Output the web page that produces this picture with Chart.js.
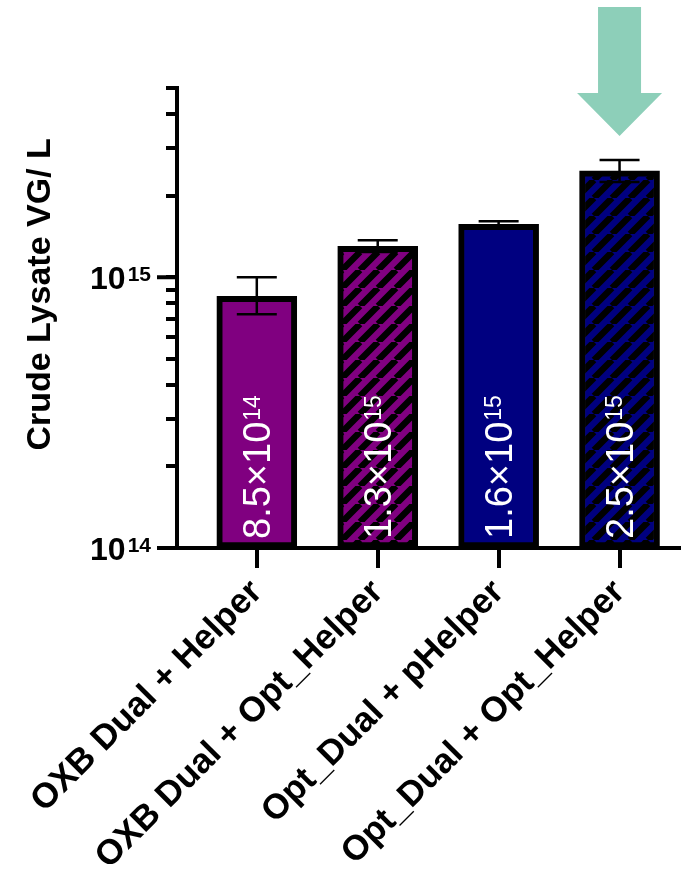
<!DOCTYPE html>
<html>
<head>
<meta charset="utf-8">
<script src="https://cdn.jsdelivr.net/npm/chart.js@4.4.1/dist/chart.umd.min.js"></script>
<style>
  html, body { margin: 0; padding: 0; background: #fff; }
  #wrap { width: 681px; height: 875px; }
</style>
</head>
<body>
<div id="wrap"><canvas id="titerChart"></canvas></div>
<script>
const categories = ['OXB Dual + Helper', 'OXB Dual + Opt_Helper', 'Opt_Dual + pHelper', 'Opt_Dual + Opt_Helper']
const titers = [8.5e14, 1.3e15, 1.57e15, 2.47e15]
const errHigh = [1.0e15, 1.37e15, 1.61e15, 2.71e15]
const errLow = [7.3e14, 1.24e15, 1.53e15, 2.25e15]
const labelMantissa = ['8.5', '1.3', '1.6', '2.5']
const labelExp = ['14', '15', '15', '15']
const fillColors = ['#800080', '#800080', '#000080', '#000080']
const hatched = [false, true, false, true]
const yTicks = [1e14, 2e14, 3e14, 4e14, 5e14, 6e14, 7e14, 8e14, 9e14, 1e15, 2e15, 3e15, 4e15, 5e15]
const yDecades = [1e14, 1e15]
const highlightIndex = 3

const FONT = '"Liberation Sans", Arial, sans-serif'

function hatchPattern(color) {
  const s = 18
  const c = document.createElement('canvas')
  c.width = s
  c.height = s
  const g = c.getContext('2d')
  g.fillStyle = color
  g.fillRect(0, 0, s, s)
  g.strokeStyle = '#000'
  g.lineWidth = 6.5
  g.beginPath()
  for (let k = -1; k <= 1; k++) {
    g.moveTo(k * s, s)
    g.lineTo(k * s + s, 0)
  }
  g.stroke()
  return g.createPattern(c, 'repeat')
}

// error bars with caps
const errorBars = {
  id: 'errorBars',
  afterDatasetsDraw(chart) {
    const { ctx, scales: { x, y } } = chart
    ctx.save()
    ctx.strokeStyle = '#000'
    ctx.lineWidth = 2.5
    titers.forEach((v, i) => {
      const px = x.getPixelForValue(i)
      const hi = y.getPixelForValue(errHigh[i])
      const lo = y.getPixelForValue(errLow[i])
      ctx.beginPath()
      ctx.moveTo(px, hi)
      ctx.lineTo(px, lo)
      ctx.moveTo(px - 20, hi)
      ctx.lineTo(px + 20, hi)
      ctx.moveTo(px - 20, lo)
      ctx.lineTo(px + 20, lo)
      ctx.stroke()
    })
    ctx.restore()
  }
}

// white rotated value labels with superscript exponent
const barLabels = {
  id: 'barLabels',
  afterDatasetsDraw(chart) {
    const { ctx, chartArea, scales: { x } } = chart
    ctx.save()
    ctx.fillStyle = '#fff'
    labelMantissa.forEach((m, i) => {
      const px = x.getPixelForValue(i)
      ctx.save()
      ctx.translate(px, chartArea.bottom - 9)
      ctx.rotate(-Math.PI / 2)
      ctx.font = `38px ${FONT}`
      ctx.textAlign = 'left'
      ctx.textBaseline = 'alphabetic'
      const main = m + '×10'
      ctx.fillText(main, 0, 13.6)
      const w = ctx.measureText(main).width
      ctx.font = `23px ${FONT}`
      ctx.fillText(labelExp[i], w + 1, 2.8)
      ctx.restore()
    })
    ctx.restore()
  }
}

// decade tick labels (10^n) and long major ticks
const decadeLabels = {
  id: 'decadeLabels',
  afterDraw(chart) {
    const { ctx, chartArea, scales: { y } } = chart
    ctx.save()
    ctx.fillStyle = '#000'
    ctx.strokeStyle = '#000'
    yDecades.forEach((v) => {
      const py = y.getPixelForValue(v)
      ctx.lineWidth = 4
      ctx.beginPath()
      ctx.moveTo(chartArea.left - 20, py)
      ctx.lineTo(chartArea.left, py)
      ctx.stroke()
      const exp = String(Math.round(Math.log10(v)))
      ctx.textAlign = 'right'
      ctx.textBaseline = 'alphabetic'
      ctx.font = `bold 21px ${FONT}`
      const right = chartArea.left - 26
      ctx.fillText(exp, right, py + 4)
      const ew = ctx.measureText(exp).width
      ctx.font = `bold 32px ${FONT}`
      ctx.fillText('10', right - ew - 2, py + 12)
    })
    ctx.restore()
  }
}

// highlight arrow above the chosen bar
const arrow = {
  id: 'arrow',
  afterDraw(chart) {
    const { ctx, chartArea, scales: { x } } = chart
    const px = x.getPixelForValue(highlightIndex)
    const t = chartArea.top
    ctx.save()
    ctx.fillStyle = 'rgb(141,207,185)'
    ctx.beginPath()
    ctx.moveTo(px - 21.5, t - 81)
    ctx.lineTo(px + 21.5, t - 81)
    ctx.lineTo(px + 21.5, t + 5)
    ctx.lineTo(px + 42.5, t + 5)
    ctx.lineTo(px, t + 48)
    ctx.lineTo(px - 42.5, t + 5)
    ctx.lineTo(px - 21.5, t + 5)
    ctx.closePath()
    ctx.fill()
    ctx.restore()
  }
}

const data = {
  datasets: [{
    data: titers.map((v, i) => ({ x: i, y: v })),
    backgroundColor: fillColors.map((c, i) => (hatched[i] ? hatchPattern(c) : c)),
    borderColor: '#000',
    borderWidth: 6,
    borderSkipped: false,
    barThickness: 80
  }]
}

const config = {
  type: 'bar',
  data,
  plugins: [errorBars, barLabels, decadeLabels, arrow],
  options: {
    responsive: true,
    maintainAspectRatio: false,
    animation: false,
    devicePixelRatio: 1,
    layout: { padding: { top: 88, left: 0, right: 1, bottom: 0 } },
    plugins: {
      legend: { display: false },
      tooltip: { enabled: false }
    },
    scales: {
      x: {
        type: 'linear',
        offset: false,
        min: -0.66,
        max: 3.5,
        afterBuildTicks: (s) => { s.ticks = categories.map((_, i) => ({ value: i })) },
        afterFit: (s) => { s.height = 327; s.paddingLeft = 0; s.paddingRight = 0 },
        ticks: {
          autoSkip: false,
          minRotation: 45,
          maxRotation: 45,
          color: '#000',
          padding: 4,
          font: { family: FONT, weight: 'bold', size: 35 },
          callback: (v) => categories[v]
        },
        grid: { offset: false, drawOnChartArea: false, tickLength: 20, lineWidth: 4, color: '#000' },
        border: { width: 4, color: '#000' }
      },
      y: {
        type: 'logarithmic',
        min: 1e14,
        max: 5e15,
        afterBuildTicks: (s) => { s.ticks = yTicks.map((v) => ({ value: v, major: yDecades.includes(v) })) },
        afterFit: (s) => { s.width = 177 },
        ticks: { display: false },
        grid: { drawOnChartArea: false, tickLength: 11, lineWidth: 4, color: '#000' },
        border: { width: 4, color: '#000' },
        title: {
          display: true,
          text: '     Crude Lysate VG/ L',
          color: '#000',
          font: { family: FONT, weight: 'bold', size: 34 },
          padding: { top: 20, bottom: 0 }
        }
      }
    }
  }
}

const chart = new Chart(document.getElementById('titerChart').getContext('2d'), config)
</script>
</body>
</html>
